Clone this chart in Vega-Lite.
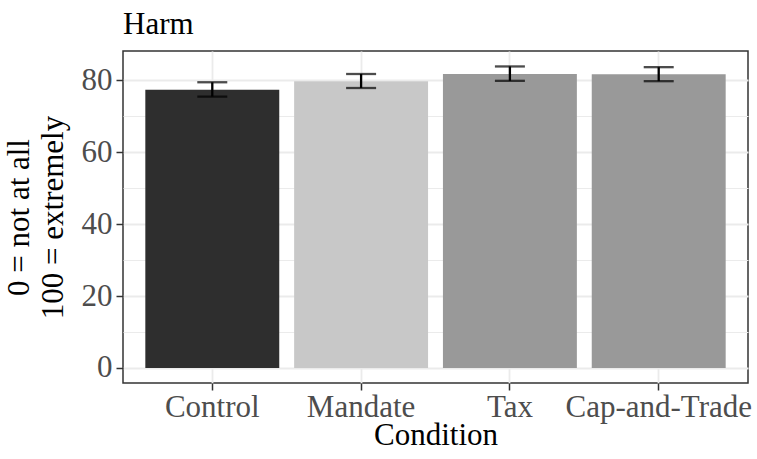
{
  "$schema": "https://vega.github.io/schema/vega-lite/v6.json",
  "width": 625,
  "height": 332,
  "autosize": {"type": "none"},
  "padding": {"left": 123, "top": 51, "right": 9, "bottom": 76},
  "background": "white",
  "title": {
    "text": "Harm",
    "anchor": "start",
    "frame": "group",
    "font": "Liberation Serif",
    "fontSize": 31,
    "fontWeight": "normal",
    "color": "black",
    "offset": 10
  },
  "config": {
    "font": "Liberation Serif",
    "view": {"stroke": "#333333", "strokeWidth": 1.5},
    "axis": {
      "labelFont": "Liberation Serif",
      "titleFont": "Liberation Serif",
      "labelFontSize": 31,
      "titleFontSize": 31,
      "labelColor": "#4D4D4D",
      "titleColor": "black",
      "titleFontWeight": "normal",
      "labelLimit": 0,
      "domain": false,
      "tickColor": "#333333",
      "tickWidth": 1.5,
      "tickSize": 7,
      "gridColor": "#EBEBEB",
      "gridWidth": 1.8
    }
  },
  "data": {
    "values": [
      {"condition": "Control", "mean": 77.4, "lower": 75.5, "upper": 79.5},
      {"condition": "Mandate", "mean": 79.8, "lower": 77.9, "upper": 81.8},
      {"condition": "Tax", "mean": 81.8, "lower": 79.9, "upper": 83.9},
      {"condition": "Cap-and-Trade", "mean": 81.7, "lower": 79.8, "upper": 83.7}
    ]
  },
  "encoding": {
    "x": {
      "field": "condition",
      "type": "nominal",
      "sort": ["Control", "Mandate", "Tax", "Cap-and-Trade"],
      "scale": {"paddingInner": 0.1, "paddingOuter": 0.15},
      "axis": {
        "title": "Condition",
        "labelAngle": 0,
        "labelPadding": 2,
        "titlePadding": -2,
        "grid": true,
        "bandPosition": 0.5
      }
    }
  },
  "layer": [
    {
      "mark": {"type": "bar"},
      "encoding": {
        "y": {
          "field": "mean",
          "type": "quantitative",
          "scale": {"domain": [-4.2, 88.2], "nice": false, "zero": false},
          "axis": {
            "values": [0, 20, 40, 60, 80],
            "title": ["0 = not at all", "100 = extremely"],
            "titleLineHeight": 34,
            "titlePadding": 12,
            "labelPadding": 4,
            "grid": true
          }
        },
        "color": {
          "field": "condition",
          "type": "nominal",
          "scale": {
            "domain": ["Control", "Mandate", "Tax", "Cap-and-Trade"],
            "range": ["#2E2E2E", "#C8C8C8", "#999999", "#999999"]
          },
          "legend": null
        }
      }
    },
    {
      "mark": {"type": "rule", "color": "black", "strokeWidth": 2.3},
      "encoding": {
        "y": {
          "field": "lower",
          "type": "quantitative",
          "axis": {
            "values": [10, 30, 50, 70],
            "orient": "right",
            "title": null,
            "labels": false,
            "ticks": false,
            "grid": true,
            "gridWidth": 1
          }
        },
        "y2": {"field": "upper"}
      }
    },
    {
      "mark": {"type": "tick", "color": "black", "size": 30, "thickness": 2.3},
      "encoding": {
        "y": {"field": "lower", "type": "quantitative", "axis": null}
      }
    },
    {
      "mark": {"type": "tick", "color": "black", "size": 30, "thickness": 2.3},
      "encoding": {
        "y": {"field": "upper", "type": "quantitative", "axis": null}
      }
    }
  ],
  "resolve": {"axis": {"y": "independent"}}
}
